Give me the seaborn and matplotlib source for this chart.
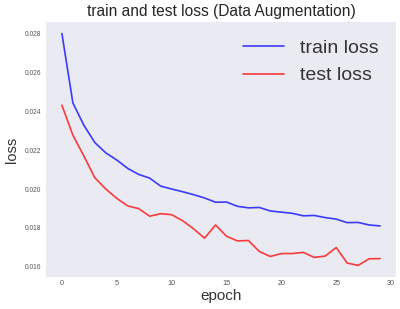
import matplotlib
matplotlib.use("Agg")
import matplotlib.pyplot as plt
import seaborn as sns
import pandas as pd
import numpy as np

epochs = list(range(30))
train_loss = [0.0280, 0.02443, 0.02328, 0.02239, 0.02186, 0.02149, 0.02106, 0.02075, 0.02056, 0.02015,
              0.02000, 0.01986, 0.01971, 0.01954, 0.01932, 0.01933, 0.01911, 0.01903, 0.01905, 0.01887,
              0.01881, 0.01875, 0.01862, 0.01864, 0.01853, 0.01845, 0.01827, 0.01828, 0.01815, 0.01810]
test_loss = [0.02431, 0.02277, 0.02170, 0.02058, 0.02000, 0.01952, 0.01913, 0.01899, 0.01860, 0.01873,
             0.01868, 0.01837, 0.01795, 0.01747, 0.01815, 0.01757, 0.01733, 0.01735, 0.01678, 0.01653,
             0.01668, 0.01668, 0.01674, 0.01648, 0.01655, 0.01699, 0.01619, 0.01607, 0.01641, 0.01642]

df = pd.DataFrame({"epoch": epochs, "train loss": train_loss, "test loss": test_loss})

sns.set_style("darkgrid")
plt.rcParams['font.family'] = ['Liberation Sans', 'DejaVu Sans']

fig = plt.figure(figsize=(4.0, 3.09), dpi=100)
ax = fig.add_axes([0.115, 0.1036, 0.875, 0.8254])
sns.lineplot(data=df, x="epoch", y="train loss", ax=ax, color="#0000ff", alpha=0.75, lw=1.2, label="train loss")
sns.lineplot(data=df, x="epoch", y="test loss", ax=ax, color="#ff0000", alpha=0.75, lw=1.2, label="test loss")
ax.grid(False)
ax.set_facecolor("#EAEAF2")
for s in ax.spines.values():
    s.set_visible(False)
ax.set_xticks([0, 5, 10, 15, 20, 25, 30])
ax.set_yticks([0.016, 0.018, 0.020, 0.022, 0.024, 0.026, 0.028])
ax.set_yticklabels(["0.016", "0.018", "0.020", "0.022", "0.024", "0.026", "0.028"])
ax.tick_params(axis="y", labelsize=4.8, colors="#555555", length=0, pad=3.6)
ax.tick_params(axis="x", labelsize=5.2, colors="#555555", length=0, pad=2.5)
ax.set_xlabel("epoch", fontsize=11, color="#333333", labelpad=1)
ax.set_ylabel("loss", fontsize=10.5, color="#333333")
ax.yaxis.set_label_coords(-0.077, 0.5)
ax.set_title("train and test loss (Data Augmentation)", fontsize=11.2, color="#262626", pad=4)
leg = ax.legend(loc="upper right", fontsize=14, frameon=False, handlelength=2.1)
for t in leg.get_texts():
    t.set_color("#333333")
fig.savefig("out.png", dpi=100)
